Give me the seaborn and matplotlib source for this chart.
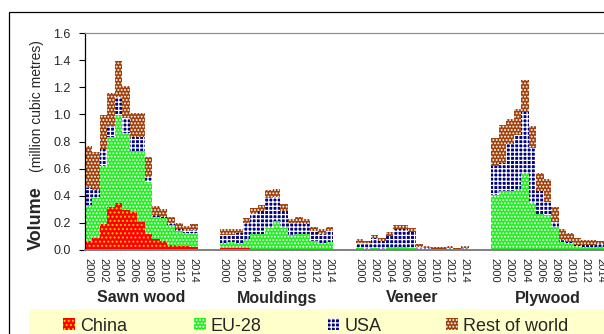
import numpy as np
import pandas as pd
import seaborn as sns
import matplotlib.pyplot as plt
from matplotlib.patches import Rectangle
from matplotlib.transforms import blended_transform_factory

products = ["Sawn wood", "Mouldings", "Veneer", "Plywood"]
years = list(range(2000, 2015))
series = ["China", "EU-28", "USA", "Rest of world"]

# million m3 per year 2000-2014
sawn_china = [0.066, 0.088, 0.19, 0.32, 0.345, 0.295, 0.28, 0.205, 0.115, 0.08, 0.07, 0.037, 0.03, 0.03, 0.025]
sawn_eu = [0.264, 0.292, 0.43, 0.515, 0.65, 0.565, 0.45, 0.525, 0.385, 0.165, 0.165, 0.148, 0.11, 0.097, 0.102]
sawn_usa = [0.13, 0.06, 0.125, 0.082, 0.135, 0.11, 0.10, 0.10, 0.04, 0.015, 0.01, 0.012, 0.012, 0.013, 0.02]
sawn_row = [0.307, 0.285, 0.25, 0.238, 0.265, 0.24, 0.178, 0.178, 0.143, 0.065, 0.055, 0.046, 0.048, 0.04, 0.043]

mould_china = [0.015, 0.015, 0.015, 0.015, 0, 0, 0, 0, 0, 0, 0, 0, 0, 0, 0]
mould_eu = [0.035, 0.045, 0.04, 0.065, 0.115, 0.12, 0.16, 0.214, 0.16, 0.11, 0.12, 0.12, 0.066, 0.054, 0.06]
mould_usa = [0.06, 0.05, 0.068, 0.117, 0.15, 0.17, 0.22, 0.176, 0.128, 0.087, 0.077, 0.07, 0.074, 0.061, 0.08]
mould_row = [0.045, 0.045, 0.032, 0.037, 0.042, 0.04, 0.06, 0.06, 0.052, 0.033, 0.043, 0.04, 0.027, 0.037, 0.027]

ven_china = [0, 0, 0.004, 0, 0, 0, 0, 0, 0, 0, 0, 0, 0, 0, 0]
ven_eu = [0.012, 0.01, 0.008, 0.01, 0.02, 0.02, 0.02, 0.015, 0.005, 0.003, 0.002, 0.002, 0.002, 0.002, 0.002]
ven_usa = [0.038, 0.04, 0.074, 0.056, 0.086, 0.135, 0.135, 0.12, 0.02, 0.014, 0.008, 0.008, 0.013, 0.005, 0.01]
ven_row = [0.029, 0.02, 0.024, 0.02, 0.029, 0.029, 0.029, 0.025, 0.019, 0.013, 0.01, 0.01, 0.015, 0.008, 0.018]

ply_china = [0] * 15
ply_eu = [0.406, 0.437, 0.437, 0.447, 0.565, 0.344, 0.265, 0.26, 0.172, 0.061, 0.05, 0.03, 0.025, 0.02, 0.025]
ply_usa = [0.214, 0.203, 0.343, 0.401, 0.455, 0.406, 0.172, 0.096, 0.038, 0.013, 0.011, 0.007, 0.012, 0.017, 0.017]
ply_row = [0.203, 0.28, 0.184, 0.189, 0.234, 0.164, 0.128, 0.168, 0.11, 0.078, 0.062, 0.049, 0.037, 0.037, 0.024]

table = {
    "Sawn wood": [sawn_china, sawn_eu, sawn_usa, sawn_row],
    "Mouldings": [mould_china, mould_eu, mould_usa, mould_row],
    "Veneer": [ven_china, ven_eu, ven_usa, ven_row],
    "Plywood": [ply_china, ply_eu, ply_usa, ply_row],
}

# 15 years + 3 empty slots per product, like the excel category axis
SLOTS = 18
rows = []
for g, prod in enumerate(products):
    for s, name in enumerate(series):
        for k, yr in enumerate(years):
            rows.append({"product": prod, "year": yr, "slot": g * SLOTS + k,
                         "series": name, "value": table[prod][s][k]})
df = pd.DataFrame(rows)
df["series"] = pd.Categorical(df["series"], categories=series, ordered=True)
df = df.sort_values(["slot", "series"])
df["top"] = df.groupby("slot")["value"].cumsum()

styles = {
    "China": ("#ff0000", "#ffd000", "...."),
    "EU-28": ("#22ee22", "white", "....."),
    "USA": ("#000080", "white", "++++"),
    "Rest of world": ("#a0400a", "white", "....."),
}

sns.set_style("white")
plt.rcParams["font.family"] = ["Liberation Sans", "DejaVu Sans"]
plt.rcParams["hatch.linewidth"] = 0.9

fig = plt.figure(figsize=(6.04, 3.34), dpi=100)
ax = fig.add_axes([84.7 / 604, 84 / 334, 1 - 84.7 / 604, 217 / 334])

for name in reversed(series):
    layer = df[df["series"] == name]
    n0 = len(ax.patches)
    fc, hc, hatch = styles[name]
    sns.barplot(data=layer, x="slot", y="top", native_scale=True, width=1,
                errorbar=None, color=fc, saturation=1, ax=ax)
    for p in ax.patches[n0:]:
        p.set_facecolor(fc)
        p.set_edgecolor(hc)
        p.set_linewidth(0)
        p.set_hatch(hatch)

ax.set_xlim(-0.5, 68.4)
ax.set_ylim(0, 1.6)
ax.set_xlabel("")
ax.set_ylabel("")

label_pos = [g * SLOTS + k for g in range(4) for k in range(0, 15, 2)]
label_txt = [str(years[k]) for g in range(4) for k in range(0, 15, 2)]
ax.set_xticks(label_pos)
ax.set_xticklabels(label_txt, rotation=-90, fontsize=8)
ax.set_xticks(np.arange(-0.5, 69, 1), minor=True)
ax.tick_params(axis="x", which="major", length=0, pad=6)
ax.tick_params(axis="x", which="minor", length=4, width=0.8, color="black", direction="out")

ax.set_yticks(np.arange(0, 1.61, 0.2))
ax.set_yticklabels([f"{v:.1f}" for v in np.arange(0, 1.61, 0.2)], fontsize=9)
ax.tick_params(axis="y", length=4, width=0.8, color="black", direction="out", left=True, pad=6)

for side in ["left"]:
    ax.spines[side].set_color("black")
    ax.spines[side].set_linewidth(0.9)
ax.spines["bottom"].set_color("#808080")
ax.spines["bottom"].set_linewidth(1.4)
ax.spines["top"].set_color("#909090")
ax.spines["top"].set_linewidth(0.9)
ax.spines["right"].set_visible(False)

# group names under the years
trans = blended_transform_factory(ax.transData, fig.transFigure)
for g, prod in enumerate(products):
    ax.text(g * SLOTS + 7, 1 - 302.5 / 334, prod, transform=trans, ha="center",
            va="baseline", fontsize=11.5, fontweight="bold", clip_on=False)

# y axis title: bold word + smaller unit text on one rotated line
fig.text(41 / 604, 1 - 250 / 334, "Volume", rotation=90, rotation_mode="anchor",
         ha="left", va="baseline", fontsize=13, fontweight="bold")
fig.text(41 / 604, 1 - 172 / 334, "(million cubic metres)", rotation=90,
         rotation_mode="anchor", ha="left", va="baseline", fontsize=10)

# outer chart frame, cut off on the right and bottom
fig.add_artist(Rectangle((9 / 604, -0.5), 2, 0.5 + 1 - 12 / 334, transform=fig.transFigure,
                         fill=False, edgecolor="black", linewidth=0.9))

# legend band
fig.add_artist(Rectangle((29 / 604, -0.1), 2, 0.1 + (334 - 309) / 334, transform=fig.transFigure,
                         facecolor="#ffffcc", edgecolor="none"))
leg_x = [63, 194, 328, 446]
for name, x in zip(series, leg_x):
    fc, hc, hatch = styles[name]
    fig.add_artist(Rectangle((x / 604, 1 - 330 / 334), 12 / 604, 12 / 334,
                             transform=fig.transFigure, facecolor=fc, edgecolor=hc,
                             linewidth=0, hatch=hatch))
    fig.text((x + 17) / 604, 1 - 331 / 334, name, ha="left", va="baseline", fontsize=13)

fig.savefig("out.png", dpi=100)
